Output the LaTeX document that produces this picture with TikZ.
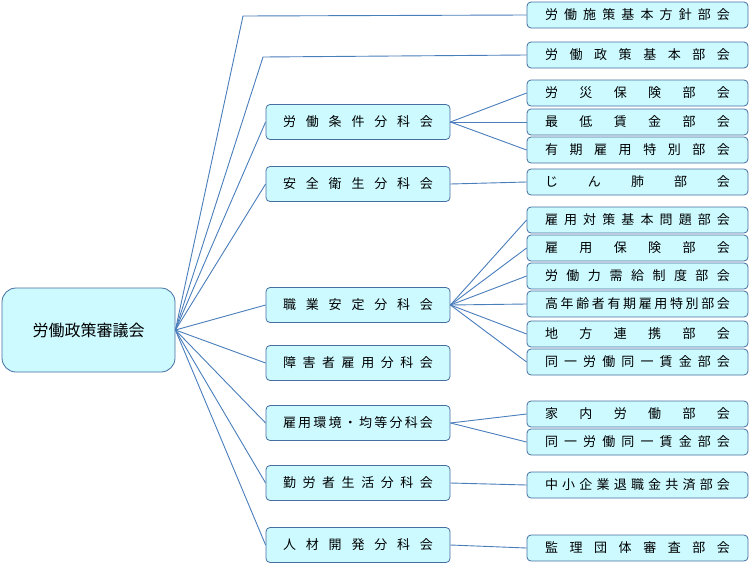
\documentclass[tikz,border=0pt]{standalone}
\usepackage{fontspec}
\setmainfont{Noto Sans CJK JP}
\usetikzlibrary{positioning}
\definecolor{boxfill}{RGB}{204,250,255}
\definecolor{boxline}{RGB}{70,110,160}
\definecolor{linkline}{RGB}{74,126,187}
\makeatletter
\newcommand\spreadtext[2]{\makebox[#1][s]{\@tfor\ch:=#2\do{\ch\hfill}\unskip}}
\makeatother
\tikzset{
  box/.style={draw=boxline,fill=boxfill,rounded corners=4pt,line width=0.8pt,inner sep=0pt},
  rootbox/.style={box,rounded corners=14pt,minimum width=173pt,minimum height=84pt,font=\fontsize{16}{16}\selectfont},
  midbox/.style={box,minimum width=184pt,minimum height=35pt,font=\fontsize{13}{13}\selectfont},
  leafbox/.style={box,minimum width=221pt,minimum height=26pt,font=\fontsize{13}{13}\selectfont},
  link/.style={draw=linkline,line width=0.9pt}
}
\newcommand\midnode[3]{\node[midbox] (#1) at (358,#2) {\spreadtext{150pt}{#3}};}
\newcommand\leafnode[3]{\node[leafbox] (#1) at (637.5,#2) {\spreadtext{185pt}{#3}};}
\begin{document}
\begin{tikzpicture}[x=1pt,y=-1pt]
  \useasboundingbox (0,0) rectangle (749,565);
  \node[rootbox] (root) at (88.5,330) {労働政策審議会};
  % middle level
  \midnode{rousai}{122}{労働条件分科会}
  \midnode{anzen}{184}{安全衛生分科会}
  \midnode{shokugyo}{305}{職業安定分科会}
  \midnode{shogai}{363}{障害者雇用分科会}
  \midnode{koyokan}{423}{雇用環境・均等分科会}
  \midnode{kinro}{483}{勤労者生活分科会}
  \midnode{jinzai}{545}{人材開発分科会}
  % right level
  \leafnode{sesaku}{15}{労働施策基本方針部会}
  \leafnode{seisaku}{55}{労働政策基本部会}
  \leafnode{l1}{93}{労災保険部会}
  \leafnode{l2}{122}{最低賃金部会}
  \leafnode{l3}{150}{有期雇用特別部会}
  \leafnode{l4}{182}{じん肺部会}
  \leafnode{l5}{220}{雇用対策基本問題部会}
  \leafnode{l6}{248}{雇用保険部会}
  \leafnode{l7}{276}{労働力需給制度部会}
  \leafnode{l8}{304}{高年齢者有期雇用特別部会}
  \leafnode{l9}{334}{地方連携部会}
  \leafnode{l10}{362}{同一労働同一賃金部会}
  \leafnode{l11}{414}{家内労働部会}
  \leafnode{l12}{442}{同一労働同一賃金部会}
  \leafnode{l13}{485}{中小企業退職金共済部会}
  \leafnode{l14}{548}{監理団体審査部会}
  % links
  \coordinate (bend1) at (243,16);
  \coordinate (bend2) at (263,57);
  \draw[link] (root.east) -- (bend1) -- (sesaku.west);
  \draw[link] (root.east) -- (bend2) -- (seisaku.west);
  \foreach \m in {rousai,anzen,shokugyo,shogai,koyokan,kinro,jinzai}
    \draw[link] (root.east) -- (\m.west);
  \foreach \l in {l1,l2,l3} \draw[link] (rousai.east) -- (\l.west);
  \draw[link] (anzen.east) -- (l4.west);
  \foreach \l in {l5,l6,l7,l8,l9,l10} \draw[link] (shokugyo.east) -- (\l.west);
  \foreach \l in {l11,l12} \draw[link] (koyokan.east) -- (\l.west);
  \draw[link] (kinro.east) -- (l13.west);
  \draw[link] (jinzai.east) -- (l14.west);
\end{tikzpicture}
\end{document}
